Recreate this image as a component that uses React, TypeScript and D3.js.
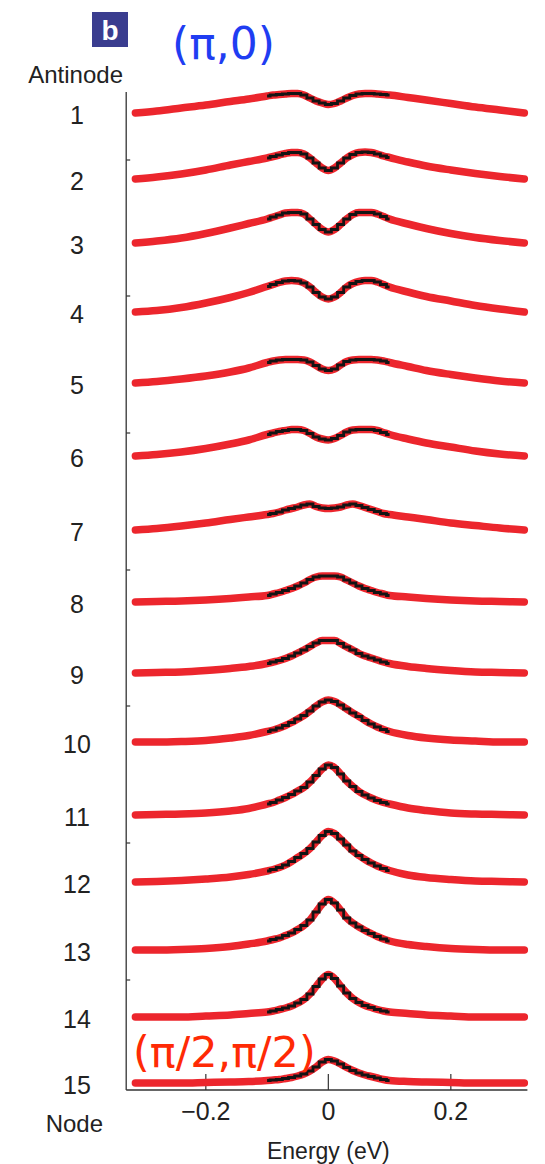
import React from "react";
import * as d3 from "d3";

// Energy grid (eV)
const energies = [-0.315, -0.28, -0.24, -0.2, -0.16, -0.13, -0.1, -0.09, -0.08, -0.07, -0.06, -0.05, -0.04, -0.03, -0.02, -0.01, 0, 0.01, 0.02, 0.03, 0.04, 0.05, 0.06, 0.07, 0.08, 0.09, 0.1, 0.13, 0.16, 0.2, 0.24, 0.28, 0.32];

// Symmetrized spectra (arb. units, above each trace's offset)
const cut1 = [0, 2, 5, 8, 11.5, 14, 17, 18, 18.5, 19, 19.5, 19.5, 18, 15, 12, 10, 8.5, 9.5, 12, 15, 17.5, 19, 19.5, 19.5, 19, 18.5, 18, 15.5, 13, 9.5, 6, 3, 0];
const cut2 = [0, 2, 5, 9, 14, 17.5, 21, 22.5, 24, 25.5, 26.5, 26.5, 25, 21, 16, 11, 8.5, 11, 16, 21, 24.5, 26.5, 27, 26.5, 25, 23, 21.5, 17, 13, 9, 5.5, 2.5, 0];
const cut3 = [0, 2, 5, 9.5, 15, 19.5, 24, 26, 28, 30, 30.5, 30.5, 29, 24, 18.5, 13.5, 11, 13.5, 18.5, 24, 28.5, 30.5, 30.5, 30.5, 29, 26.5, 24, 19, 14.5, 9.5, 5.5, 2.5, 0];
const cut4 = [0, 1.5, 4.5, 9, 14.5, 19.5, 25.5, 27.5, 29.5, 31, 31.5, 31, 29, 25, 19.5, 15, 13, 15, 19.5, 25, 28.5, 30.5, 31.5, 31.5, 30, 27.5, 25, 20, 15.5, 11, 6.5, 3, 0];
const cut5 = [0, 1.5, 4, 7, 11, 15, 20.5, 22, 23, 23.5, 23.5, 23.5, 23, 21, 17.5, 14, 12.5, 14, 18, 21.5, 23, 23.5, 23.5, 23.5, 23, 22, 20.5, 16.5, 12.5, 8.5, 5, 2, 0];
const cut6 = [0, 1.5, 4, 7.5, 12, 16, 21.5, 23, 24.5, 25.5, 26.5, 26.5, 25.5, 22.5, 19, 17, 16, 17.5, 20.5, 24, 26, 26.5, 26.5, 26.5, 25.5, 23.5, 21.5, 17, 13, 9, 5, 2, 0];
const cut7 = [0, 1.5, 4, 7, 10.5, 13, 15.5, 16.5, 18, 20, 21.5, 23, 25, 26, 23.5, 22, 21.5, 22, 23, 25, 26, 24.5, 22.5, 20.5, 18.5, 16.5, 15.5, 13, 10.5, 7, 4.5, 2, 0];
const cut8 = [0, 0.5, 1, 2, 3.5, 5, 6.5, 8, 9.5, 11.5, 13.5, 16, 19, 22.5, 25, 26, 26, 26, 25, 22, 19, 16, 13.5, 11.5, 9.5, 8, 6.5, 5, 3.5, 2, 1, 0.5, 0];
const cut9 = [0, 0.5, 1, 2.5, 4.5, 6.5, 9.5, 11, 12.5, 14.5, 17, 20, 23, 26.5, 30, 32.5, 32.5, 32.5, 29.5, 26, 23, 19.5, 17, 15, 13, 11, 9.5, 6.5, 4.5, 2.5, 1, 0.5, 0];
const cut10 = [0, 0, 0.5, 1.5, 4, 6.5, 10.5, 12, 14, 16.5, 19.5, 23, 26.5, 31, 36, 40, 42, 40.5, 37, 33, 29, 25.5, 21.5, 18, 15, 12.5, 10.5, 6.5, 4, 2, 1, 0, 0];
const cut11 = [0, 0.5, 1, 2, 4, 6.5, 11, 12.5, 15, 17.5, 20.5, 24, 27.5, 33, 39.5, 46, 50, 47.5, 41, 34, 28.5, 23.5, 20, 17, 14.5, 12.5, 11, 7, 4.5, 2, 1, 0.5, 0];
const cut12 = [0, 0.5, 1.5, 3, 5, 7.5, 11, 12.5, 14.5, 17, 20.5, 24.5, 28.5, 33.5, 40, 46.5, 50.5, 48.5, 43, 37, 31, 26.5, 22.5, 19, 16, 13.5, 11.5, 7, 4.5, 2.5, 1, 0.5, 0];
const cut13 = [0, 0, 0.5, 1.5, 3.5, 6, 9, 10.5, 12, 14.5, 17, 20.5, 24.5, 30, 38, 46, 50.5, 47, 40, 32, 27, 23, 19.5, 16.5, 13.5, 11, 9, 5.5, 3.5, 1.5, 0.5, 0, 0];
const cut14 = [0, 0, 0, 1, 2, 3.5, 5, 6, 7.5, 9, 11, 14, 17.5, 23, 30.5, 38, 42.5, 38.5, 31, 24, 18.5, 14.5, 11.5, 9.5, 7.5, 6, 5, 3.5, 2, 1, 0, 0, 0];
const cut15 = [0, 0, 0, 0.5, 1, 1.5, 2.5, 3, 3.5, 4.5, 5.5, 7, 9, 12, 16, 21, 23.5, 22, 19, 15.5, 12.5, 10, 8, 6.5, 5, 3.5, 2.5, 1.5, 1, 0.5, 0, 0, 0];

const cuts = [cut1, cut2, cut3, cut4, cut5, cut6, cut7, cut8, cut9, cut10, cut11, cut12, cut13, cut14, cut15];
const cutLabels = ["1", "2", "3", "4", "5", "6", "7", "8", "9", "10", "11", "12", "13", "14", "15"];
// vertical offset of each trace (arb. units)
const offsets = [977, 911, 847, 778, 707, 634, 560, 488, 417, 348, 275, 208, 140, 73, 7];

const xTicks = [-0.2, 0, 0.2];
const xTickLabels = ["\u22120.2", "0", "0.2"];
const yTicks = [110, 247, 384, 520, 657, 794, 930];
const fitRange = [-0.1, 0.1];

const W = 545;
const H = 1164;
const RED = "#ec262d";

export default function App() {
  const x = d3.scaleLinear().domain([-0.33, 0.325]).range([126.2, 527.4]);
  const y = d3.scaleLinear().domain([0, 998]).range([1090, 92]);

  const redLine = (vals: number[], off: number) =>
    d3
      .line<number>()
      .x((_, i) => x(energies[i]))
      .y((v) => y(off + v))
      .curve(d3.curveMonotoneX)(vals) || "";

  const fitLine = (vals: number[], off: number) => {
    const pts = vals
      .map((v, i) => [energies[i], v] as [number, number])
      .filter((p) => p[0] >= fitRange[0] - 1e-9 && p[0] <= fitRange[1] + 1e-9);
    return (
      d3
        .line<[number, number]>()
        .x((p) => x(p[0]))
        .y((p) => y(off + p[1]))
        .curve(d3.curveStep)(pts) || ""
    );
  };

  const font = "'Liberation Sans', Arial, Helvetica, sans-serif";

  return (
    <svg
      width={W}
      height={H}
      style={{ position: "absolute", left: 0, top: 0, background: "#fff" }}
      fontFamily={font}
    >
      {/* panel letter */}
      <rect x={92} y={12} width={36} height={35} fill="#3a3d8f" />
      <text x={110} y={40} textAnchor="middle" fontSize={28} fontWeight="bold" fill="#fff">
        b
      </text>
      <text x={172} y={59} fontSize={44} fill="#1f3df2" fontFamily="'DejaVu Sans', sans-serif">
        (π,0)
      </text>

      <text x={123} y={83} textAnchor="end" fontSize={24} fill="#222">
        Antinode
      </text>
      <text x={103} y={1132} textAnchor="end" fontSize={24} fill="#222">
        Node
      </text>

      {/* axes */}
      <line x1={x.range()[0]} x2={x.range()[0]} y1={y.range()[1]} y2={y.range()[0]} stroke="#333" strokeWidth={1.3} />
      <line x1={x.range()[0]} x2={x.range()[1]} y1={y.range()[0]} y2={y.range()[0]} stroke="#333" strokeWidth={1.3} />
      {yTicks.map((t) => (
        <line key={t} x1={x.range()[0]} x2={x.range()[0] + 4} y1={y(t)} y2={y(t)} stroke="#333" strokeWidth={1.2} />
      ))}
      {xTicks.map((t, i) => (
        <g key={t}>
          <line x1={x(t)} x2={x(t)} y1={y.range()[0]} y2={y.range()[0] - 16} stroke="#333" strokeWidth={1.2} />
          <text x={x(t)} y={1120} textAnchor="middle" fontSize={25} fill="#222">
            {xTickLabels[i]}
          </text>
        </g>
      ))}
      <text x={x(0)} y={1159} textAnchor="middle" fontSize={23} fill="#222">
        Energy (eV)
      </text>

      {/* traces */}
      {cuts.map((vals, k) => (
        <g key={k}>
          <path d={redLine(vals, offsets[k])} fill="none" stroke={RED} strokeWidth={7.5} strokeLinecap="round" strokeLinejoin="round" />
          <path d={fitLine(vals, offsets[k])} fill="none" stroke="#141414" strokeWidth={2.8} />
          <text x={77} y={y(offsets[k]) + 2} textAnchor="middle" dominantBaseline="central" fontSize={25} fill="#222">
            {cutLabels[k]}
          </text>
        </g>
      ))}

      <text x={133} y={1067} fontSize={43} fill="#ff2a05" fontFamily="'DejaVu Sans', sans-serif">
        (π/2,π/2)
      </text>
    </svg>
  );
}
